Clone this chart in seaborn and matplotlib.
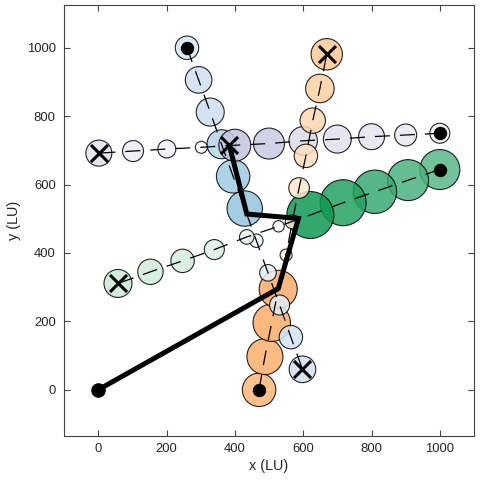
import matplotlib
matplotlib.use("Agg")
import numpy as np
import pandas as pd
import matplotlib.pyplot as plt
import seaborn as sns
from matplotlib.colors import LinearSegmentedColormap

# ---------------- data ----------------
# w: squared circle radius (size variable), c: colour level (0..1)
purple_x = [1000, 900, 800, 700, 600, 500, 400, 302, 201, 102, 2]
purple_y = [750, 745, 740, 733, 728, 720, 715, 709, 704, 698, 692]
purple_w = [100, 121, 169, 196, 202, 240, 256, 36, 81, 110, 169]
purple_c = [0.10, 0.16, 0.19, 0.21, 0.24, 0.32, 0.34, 0.02, 0.10, 0.14, 0.20]

blue_x = [260, 294, 328, 361, 395, 429, 463, 497, 531, 564, 598]
blue_y = [1000, 906, 812, 718, 624, 530, 436, 342, 248, 154, 60]
blue_w = [137, 177, 196, 210, 279, 313, 45, 69, 100, 137, 177]
blue_c = [0.15, 0.20, 0.22, 0.30, 0.37, 0.40, 0.02, 0.08, 0.12, 0.18, 0.20]

orange_x = [471, 488, 508, 527, 550, 568, 588, 608, 628, 649, 669]
orange_y = [0, 97, 196, 294, 394, 491, 590, 684, 787, 881, 981]
orange_w = [279, 324, 350, 361, 36, 49, 106, 137, 161, 204, 246]
orange_c = [0.34, 0.37, 0.38, 0.38, 0.03, 0.10, 0.12, 0.17, 0.21, 0.25, 0.28]

green_x = [1000, 907, 810, 717, 621, 528, 435, 340, 247, 153, 58]
green_y = [644, 613, 579, 547, 511, 478, 447, 410, 377, 345, 311]
green_w = [400, 420, 471, 529, 552, 32, 53, 100, 137, 161, 196]
green_c = [0.67, 0.73, 0.80, 0.89, 0.97, 0.02, 0.10, 0.14, 0.17, 0.19, 0.22]

path_x = [0, 527, 586, 435, 384]
path_y = [0, 296, 501, 514, 715]

x_ticks = [0, 200, 400, 600, 800, 1000]
y_ticks = [0, 200, 400, 600, 800, 1000]
x_label = "x (LU)"
y_label = "y (LU)"

# ---------------- style ----------------
sns.set_theme(style="ticks")
plt.rcParams["font.family"] = ["Liberation Sans", "DejaVu Sans"]

fig = plt.figure(figsize=(4.83, 4.82), dpi=100)
ax = fig.add_axes([64 / 483, 1 - 436 / 482, 410 / 483, 431 / 482])

green_cmap = LinearSegmentedColormap.from_list("grn", ["#ffffff", "#08954f"])
trajs = [
    ("purple", plt.get_cmap("Purples"), purple_x, purple_y, purple_w, purple_c),
    ("blue", plt.get_cmap("Blues"), blue_x, blue_y, blue_w, blue_c),
    ("orange", plt.get_cmap("Oranges"), orange_x, orange_y, orange_w, orange_c),
    ("green", green_cmap, green_x, green_y, green_w, green_c),
]

rows = []
palette = {}
for order, (name, cmap, xs, ys, ws, cs) in enumerate(trajs):
    for t, (x, y, w, c) in enumerate(zip(xs, ys, ws, cs)):
        key = f"{name}_{t}"
        palette[key] = cmap(c)
        rows.append(dict(key=key, order=order, step=t, x=x, y=y, w=w))
df = pd.DataFrame(rows).sort_values(["step", "order"]).reset_index(drop=True)

area_per_w = (2 * 0.72) ** 2  # w is squared radius in px
sns.scatterplot(data=df, x="x", y="y", hue="key", palette=palette,
                size="w", sizes=(0, area_per_w * 600), size_norm=(0, 600),
                alpha=0.85, edgecolor="black", linewidth=0.8,
                legend=False, ax=ax, zorder=2)

for name, cmap, xs, ys, ws, cs in trajs:
    sns.lineplot(x=xs, y=ys, sort=False, estimator=None, color="black",
                 lw=0.9, linestyle=(0, (12, 8)), ax=ax, zorder=3)

start_x = [t[2][0] for t in trajs]
start_y = [t[3][0] for t in trajs]
end_x = [t[2][-1] for t in trajs]
end_y = [t[3][-1] for t in trajs]
sns.scatterplot(x=start_x, y=start_y, color="black", s=93, edgecolor="black",
                linewidth=0, ax=ax, zorder=4, legend=False)
sns.scatterplot(x=end_x, y=end_y, color="black", marker="x", s=150,
                linewidth=2.2, ax=ax, zorder=4, legend=False)

# black reference path
sns.lineplot(x=path_x, y=path_y, sort=False, estimator=None, color="black",
             lw=3.6, ax=ax, zorder=5, solid_joinstyle="miter")
sns.scatterplot(x=path_x[:1], y=path_y[:1], color="black", s=110,
                linewidth=0, ax=ax, zorder=6, legend=False)
sns.scatterplot(x=path_x[-1:], y=path_y[-1:], color="black", marker="x", s=150,
                linewidth=2.2, ax=ax, zorder=6, legend=False)

# ---------------- axes ----------------
ax.set_xlim(-100, 1100)
ax.set_ylim(-135, 1125)
ax.set_xticks(x_ticks)
ax.set_yticks(y_ticks)
ax.tick_params(direction="in", top=True, right=True, length=4, width=0.8,
               color="#444444", labelsize=9.4, labelcolor="#262626")
ax.tick_params(axis="x", pad=5)
ax.tick_params(axis="y", pad=6)
for sp in ax.spines.values():
    sp.set_color("#444444")
    sp.set_linewidth(0.8)
ax.set_xlabel(x_label, fontsize=10.4, color="#262626", labelpad=3)
ax.set_ylabel(y_label, fontsize=10.4, color="#262626", labelpad=4)

fig.savefig("out.png", dpi=100)
